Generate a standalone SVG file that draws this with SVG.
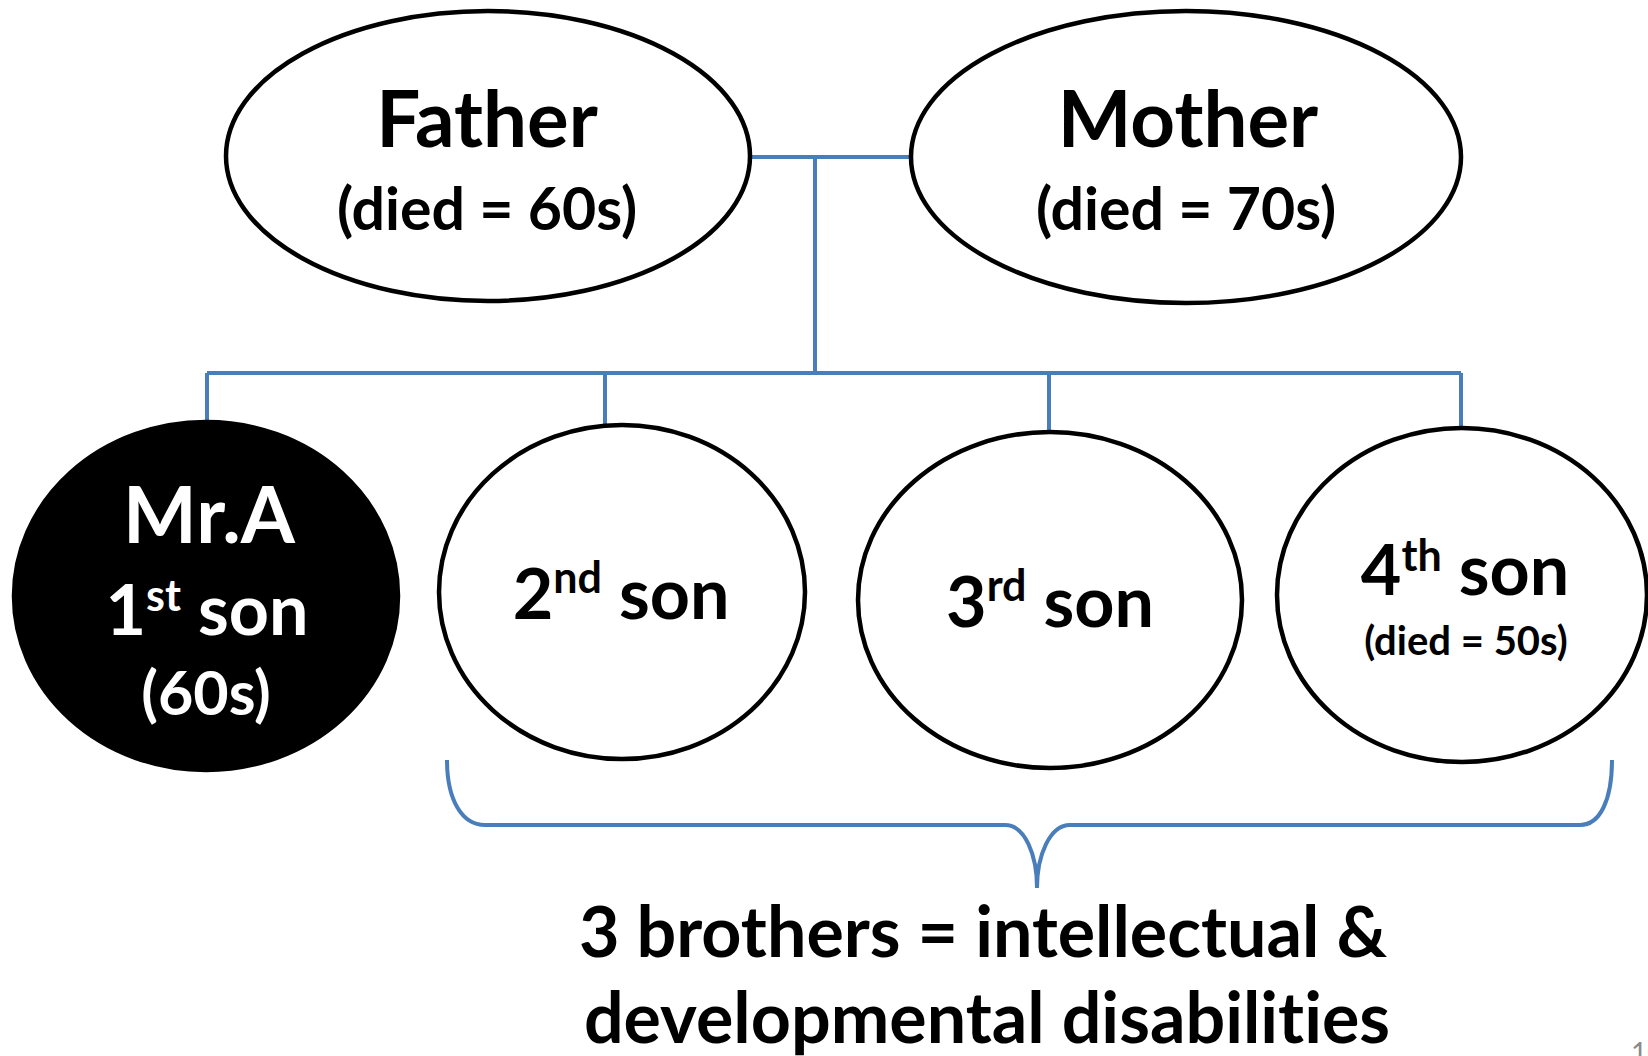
<svg xmlns="http://www.w3.org/2000/svg" width="1648" height="1056" viewBox="0 0 1648 1056">
<style>
.node{fill:#fff;stroke:#000;stroke-width:4.5}
.dark{fill:#000;stroke:#000;stroke-width:4.5}
.t{font-family:Lato,"Liberation Sans",sans-serif;font-weight:bold;text-anchor:middle;fill:#000;font-variant-ligatures:none;font-feature-settings:"liga" 0,"clig" 0}
.w{fill:#fff}
.big{font-size:78px}
.sub{font-size:59px}
.age{font-size:61px}
.son{font-size:70px}
.sup{font-size:43px}
.small{font-size:40px}
.note{font-size:70px}
.conn{fill:none;stroke:#4A7EBB;stroke-width:4}
</style>
<rect width="1648" height="1056" fill="#fff"/>
<g id="connectors">
<path class="conn" d="M750,157 H911 M815,157 V373 M207,373 H1461 M207,373 V422 M605,373 V425 M1049,373 V432 M1461,373 V428"/>
<path id="brace" class="conn" d="M447,760 C447,800 462,825 485,825 L1005,825 C1025,825 1037,855 1037,888 C1037,855 1050,825 1070,825 L1580,825 C1600,825 1612,800 1612,760"/>
</g>
<g id="father">
<ellipse class="node" cx="488" cy="156" rx="262" ry="145"/>
<text class="t big" x="487" y="147">Father</text>
<text class="t sub" x="487" y="230">(died = 60s)</text>
</g>
<g id="mother">
<ellipse class="node" cx="1186" cy="157" rx="275" ry="146"/>
<text class="t big" x="1188" y="147">Mother</text>
<text class="t sub" x="1186" y="230">(died = 70s)</text>
</g>
<g id="mra">
<ellipse class="dark" cx="206" cy="596" rx="192" ry="174"/>
<text class="t w big" x="209" y="543">Mr.A</text>
<text class="t w son" x="207" y="635">1<tspan class="sup" dy="-24">st</tspan><tspan dy="24"> son</tspan></text>
<text class="t w age" x="206" y="715">(60s)</text>
</g>
<g id="son2">
<ellipse class="node" cx="622" cy="592" rx="183" ry="167"/>
<text class="t son" x="621" y="619">2<tspan class="sup" dy="-26">nd</tspan><tspan dy="26"> son</tspan></text>
</g>
<g id="son3">
<ellipse class="node" cx="1050" cy="600" rx="192" ry="168"/>
<text class="t son" x="1050" y="627">3<tspan class="sup" dy="-26">rd</tspan><tspan dy="26"> son</tspan></text>
</g>
<g id="son4">
<ellipse class="node" cx="1462" cy="595" rx="185" ry="167"/>
<text class="t son" x="1465" y="595">4<tspan class="sup" dy="-24">th</tspan><tspan dy="24"> son</tspan></text>
<text class="t small" x="1466" y="655">(died = 50s)</text>
</g>
<g id="note">
<text class="t note" x="983" y="957">3 brothers = intellectual &amp;</text>
<text class="t note" x="987" y="1043">developmental disabilities</text>
</g>
<text x="1631" y="1063" font-family="Lato,'Liberation Sans',sans-serif" font-size="28" fill="#8a8a8a">10</text>
</svg>
